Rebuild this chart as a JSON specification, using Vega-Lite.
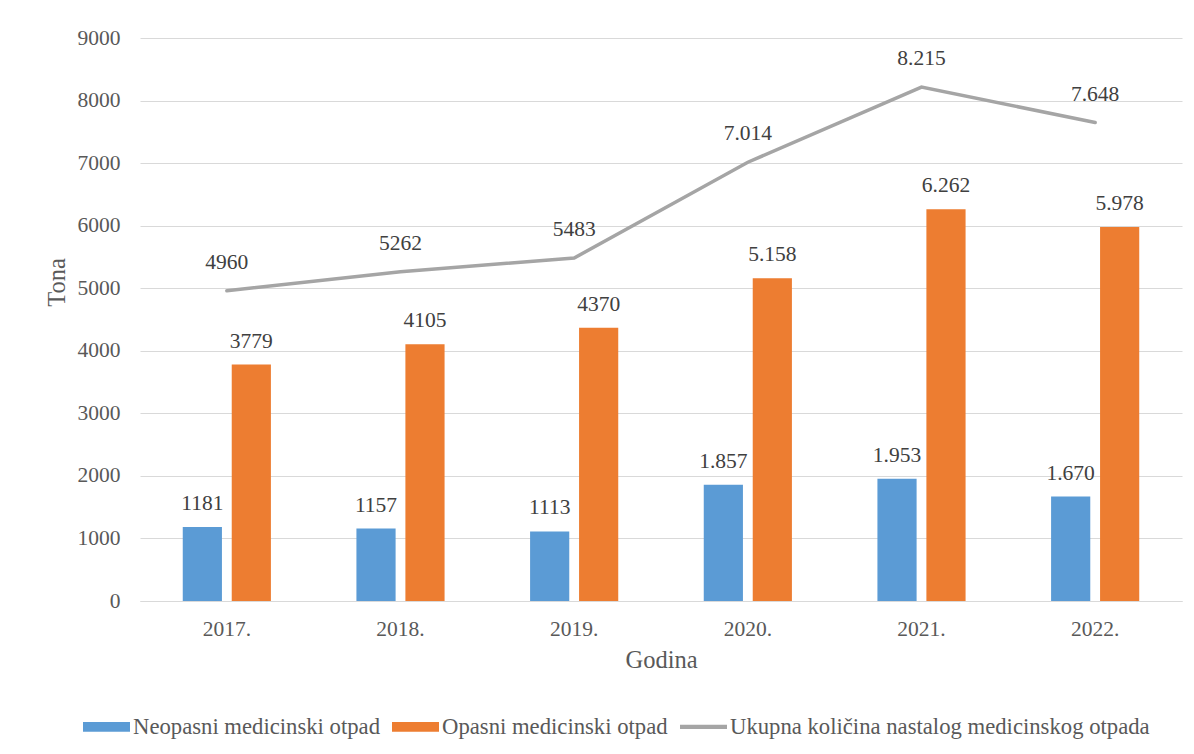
{
  "$schema": "https://vega.github.io/schema/vega-lite/v6.json",
  "width": 1042,
  "height": 563,
  "autosize": "none",
  "padding": {"left": 140, "top": 38, "right": 12, "bottom": 153},
  "background": "white",
  "config": {
    "font": "Liberation Serif",
    "view": {"stroke": null},
    "text": {"font": "Liberation Serif"},
    "axis": {
      "labelFont": "Liberation Serif",
      "titleFont": "Liberation Serif",
      "labelFontSize": 21.5,
      "titleFontSize": 24.5,
      "labelColor": "#595959",
      "titleColor": "#595959",
      "titleFontWeight": "normal",
      "ticks": false,
      "gridColor": "#d9d9d9",
      "domainColor": "#d9d9d9"
    },
    "legend": {
      "labelFont": "Liberation Serif",
      "labelFontSize": 22.7,
      "labelColor": "#595959",
      "labelLimit": 0
    }
  },
  "data": {
    "values": [
      {"year": "2017.", "series": "Neopasni medicinski otpad", "value": 1181, "label": "1181"},
      {"year": "2018.", "series": "Neopasni medicinski otpad", "value": 1157, "label": "1157"},
      {"year": "2019.", "series": "Neopasni medicinski otpad", "value": 1113, "label": "1113"},
      {"year": "2020.", "series": "Neopasni medicinski otpad", "value": 1857, "label": "1.857"},
      {"year": "2021.", "series": "Neopasni medicinski otpad", "value": 1953, "label": "1.953"},
      {"year": "2022.", "series": "Neopasni medicinski otpad", "value": 1670, "label": "1.670"},
      {"year": "2017.", "series": "Opasni medicinski otpad", "value": 3779, "label": "3779"},
      {"year": "2018.", "series": "Opasni medicinski otpad", "value": 4105, "label": "4105"},
      {"year": "2019.", "series": "Opasni medicinski otpad", "value": 4370, "label": "4370"},
      {"year": "2020.", "series": "Opasni medicinski otpad", "value": 5158, "label": "5.158"},
      {"year": "2021.", "series": "Opasni medicinski otpad", "value": 6262, "label": "6.262"},
      {"year": "2022.", "series": "Opasni medicinski otpad", "value": 5978, "label": "5.978"},
      {"year": "2017.", "series": "Ukupna količina nastalog medicinskog otpada", "value": 4960, "label": "4960"},
      {"year": "2018.", "series": "Ukupna količina nastalog medicinskog otpada", "value": 5262, "label": "5262"},
      {"year": "2019.", "series": "Ukupna količina nastalog medicinskog otpada", "value": 5483, "label": "5483"},
      {"year": "2020.", "series": "Ukupna količina nastalog medicinskog otpada", "value": 7014, "label": "7.014"},
      {"year": "2021.", "series": "Ukupna količina nastalog medicinskog otpada", "value": 8215, "label": "8.215"},
      {"year": "2022.", "series": "Ukupna količina nastalog medicinskog otpada", "value": 7648, "label": "7.648"}
    ]
  },
  "layer": [
    {
      "transform": [{"filter": "datum.series !== 'Ukupna količina nastalog medicinskog otpada'"}],
      "mark": {"type": "bar"},
      "encoding": {
        "x": {
          "field": "year", "type": "nominal", "sort": null,
          "scale": {"paddingInner": 0, "paddingOuter": 0},
          "axis": {"title": "Godina", "labelAngle": 0, "labelPadding": 17, "titlePadding": 9, "grid": false, "domain": true}
        },
        "xOffset": {
          "field": "series", "type": "nominal",
          "scale": {"domain": ["Neopasni medicinski otpad", "Opasni medicinski otpad"], "paddingInner": 0.2, "paddingOuter": 0.873}
        },
        "y": {
          "field": "value", "type": "quantitative",
          "scale": {"domain": [0, 9000], "nice": false},
          "axis": {"title": "Tona", "values": [0,1000,2000,3000,4000,5000,6000,7000,8000,9000], "format": "d", "labelOverlap": false, "labelPadding": 20, "titleX": -83, "titleY": 244, "titleAngle": -90, "titleAlign": "center", "titleBaseline": "middle", "domain": false, "grid": true}
        },
        "color": {
          "field": "series", "type": "nominal",
          "scale": {
            "domain": ["Neopasni medicinski otpad", "Opasni medicinski otpad", "Ukupna količina nastalog medicinskog otpada"],
            "range": ["#5B9BD5", "#ED7D31", "#A5A5A5"]
          },
          "legend": {
            "title": null,
            "orient": "none",
            "direction": "horizontal",
            "legendX": -57,
            "legendY": 665,
            "symbolSize": 2209,
            "labelOffset": 3,
            "columnPadding": 12,
            "labelFont": "Liberation Serif",
            "encode": {
              "symbols": {
                "update": {
                  "shape": {"signal": "datum.value === 'Ukupna količina nastalog medicinskog otpada' ? 'M-1,-0.09H1V0.09H-1Z' : 'M-1,-0.21H1V0.21H-1Z'"},
                  "strokeWidth": {"value": 0}
                }
              }
            }
          }
        }
      }
    },
    {
      "transform": [{"filter": "datum.series !== 'Ukupna količina nastalog medicinskog otpada'"}],
      "mark": {"type": "text", "dy": -23, "fontSize": 21.5, "font": "Liberation Serif", "color": "#404040", "baseline": "middle"},
      "encoding": {
        "x": {"field": "year", "type": "nominal", "sort": null},
        "xOffset": {"field": "series", "type": "nominal"},
        "y": {"field": "value", "type": "quantitative"},
        "text": {"field": "label"}
      }
    },
    {
      "transform": [{"filter": "datum.series === 'Ukupna količina nastalog medicinskog otpada'"}],
      "mark": {"type": "line", "strokeWidth": 3.5, "strokeCap": "round"},
      "encoding": {
        "x": {"field": "year", "type": "nominal", "sort": null},
        "y": {"field": "value", "type": "quantitative"},
        "color": {"field": "series", "type": "nominal"}
      }
    },
    {
      "transform": [{"filter": "datum.series === 'Ukupna količina nastalog medicinskog otpada'"}],
      "mark": {"type": "text", "dy": -28, "fontSize": 21.5, "font": "Liberation Serif", "color": "#404040", "baseline": "middle"},
      "encoding": {
        "x": {"field": "year", "type": "nominal", "sort": null},
        "y": {"field": "value", "type": "quantitative"},
        "text": {"field": "label"}
      }
    }
  ]
}
